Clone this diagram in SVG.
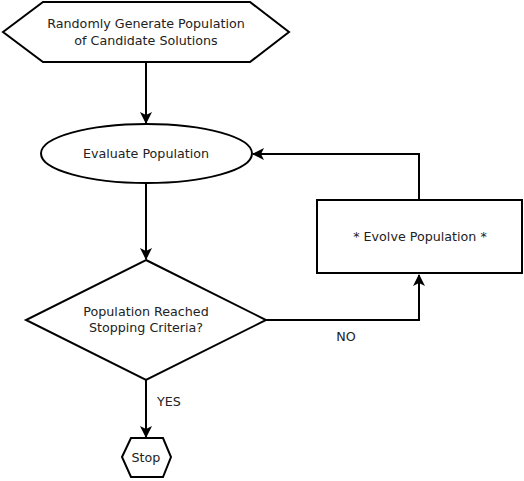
<svg xmlns="http://www.w3.org/2000/svg" width="524" height="481" viewBox="0 0 524 481">
<style>
.s{fill:#fff;stroke:#000;stroke-width:2}
.t{font-family:"DejaVu Sans",sans-serif;font-size:12.7px;fill:#222;text-anchor:middle}
.c{fill:none;stroke:#000;stroke-width:2}
</style>
<defs>
<marker id="a" viewBox="0 0 12 12" refX="11" refY="6" markerWidth="12" markerHeight="12" markerUnits="userSpaceOnUse" orient="auto">
<path d="M0,0 L12,6 L0,12 L3,6 Z" fill="#000"/>
</marker>
</defs>
<rect width="524" height="481" fill="#fff"/>
<g id="connectors">
<path class="c" d="M146,62 V123" marker-end="url(#a)"/>
<path class="c" d="M146,183 V259" marker-end="url(#a)"/>
<path class="c" d="M266,320 H419 V275" marker-end="url(#a)"/>
<path class="c" d="M419,200 V154 H253" marker-end="url(#a)"/>
<path class="c" d="M146,380 V437" marker-end="url(#a)"/>
<text class="t" x="346" y="341">NO</text>
<text class="t" x="169" y="406">YES</text>
</g>
<g id="start">
<polygon class="s" points="3,32 43,2 250,2 289,32 250,62 43,62"/>
<text class="t" x="146" y="28">Randomly Generate Population</text>
<text class="t" x="146" y="45">of Candidate Solutions</text>
</g>
<g id="evaluate">
<ellipse class="s" cx="146.5" cy="153.5" rx="105.5" ry="29.5"/>
<text class="t" x="146" y="158">Evaluate Population</text>
</g>
<g id="decision">
<polygon class="s" points="146,260 266,320 146,380 26,320"/>
<text class="t" x="146" y="316">Population Reached</text>
<text class="t" x="146" y="332">Stopping Criteria?</text>
</g>
<g id="evolve">
<rect class="s" x="317" y="200" width="205" height="73"/>
<text class="t" x="420" y="241">* Evolve Population *</text>
</g>
<g id="stop">
<polygon class="s" points="122,457 131,438 163,438 171,457 163,477 131,477"/>
<text class="t" x="146" y="462">Stop</text>
</g>
</svg>
